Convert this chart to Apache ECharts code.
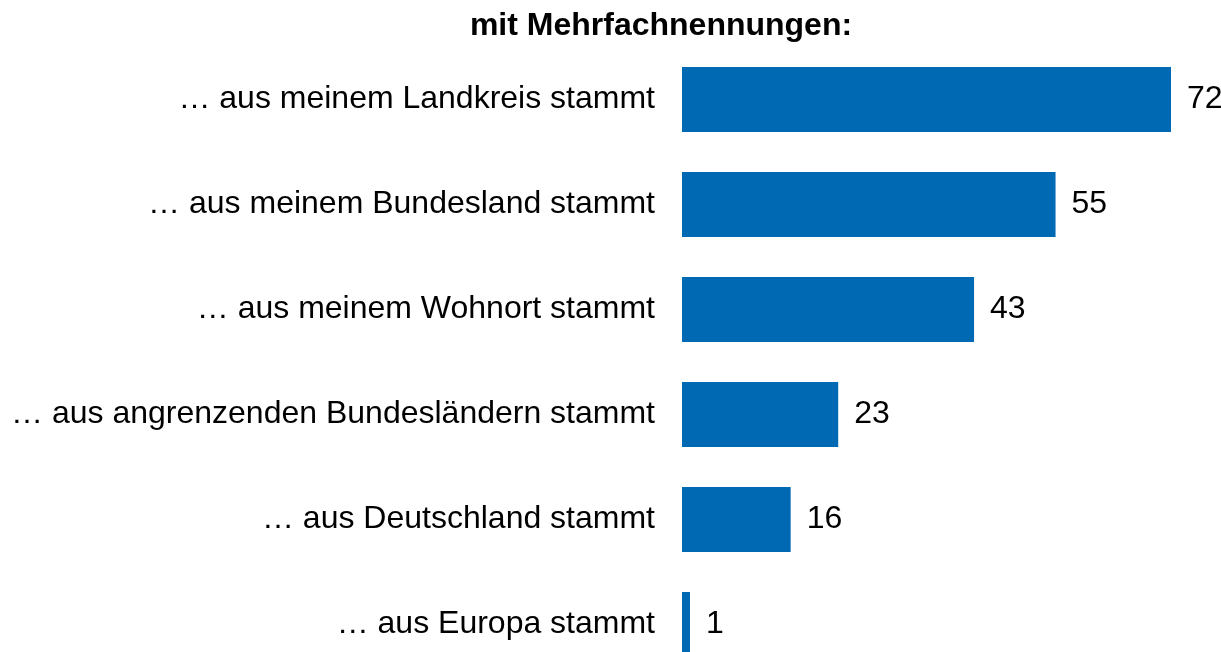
<!DOCTYPE html>
<html>
<head>
<meta charset="utf-8">
<script src="https://cdn.jsdelivr.net/npm/echarts@6/dist/echarts.min.js"></script>
<style>
  html, body { margin: 0; padding: 0; background: #ffffff; overflow: hidden; }
  /* the last bar runs off the bottom edge, so the chart is taller than the window */
  #main { width: 1221px; height: 682px; }
</style>
</head>
<body>
<div id="main"></div>
<script>
const categories = [
  '… aus meinem Landkreis stammt',
  '… aus meinem Bundesland stammt',
  '… aus meinem Wohnort stammt',
  '… aus angrenzenden Bundesländern stammt',
  '… aus Deutschland stammt',
  '… aus Europa stammt'
];
const values = [72, 55, 43, 23, 16, 1];

const chart = echarts.init(document.getElementById('main'));

const option = {
  backgroundColor: '#ffffff',
  animation: false,
  textStyle: { fontFamily: 'Liberation Sans, Arial, sans-serif' },
  title: {
    text: 'mit Mehrfachnennungen:',
    left: 656,
    top: 5,
    textAlign: 'center',
    textStyle: { fontSize: 32, fontWeight: 'bold', color: '#000000' }
  },
  grid: {
    left: 682,
    right: 50,
    top: 47,
    bottom: 5
  },
  xAxis: {
    type: 'value',
    min: 0,
    max: 72,
    show: false
  },
  yAxis: {
    type: 'category',
    inverse: true,
    data: categories,
    axisLine: { show: false },
    axisTick: { show: false },
    axisLabel: {
      margin: 27,
      fontSize: 32,
      color: '#000000'
    }
  },
  series: [
    {
      type: 'bar',
      data: values,
      barWidth: 65,
      barMinHeight: 8,
      itemStyle: { color: '#0069b4' },
      label: {
        show: true,
        position: 'right',
        distance: 16,
        fontSize: 32,
        color: '#000000'
      }
    }
  ]
};

chart.setOption(option);
</script>
</body>
</html>
